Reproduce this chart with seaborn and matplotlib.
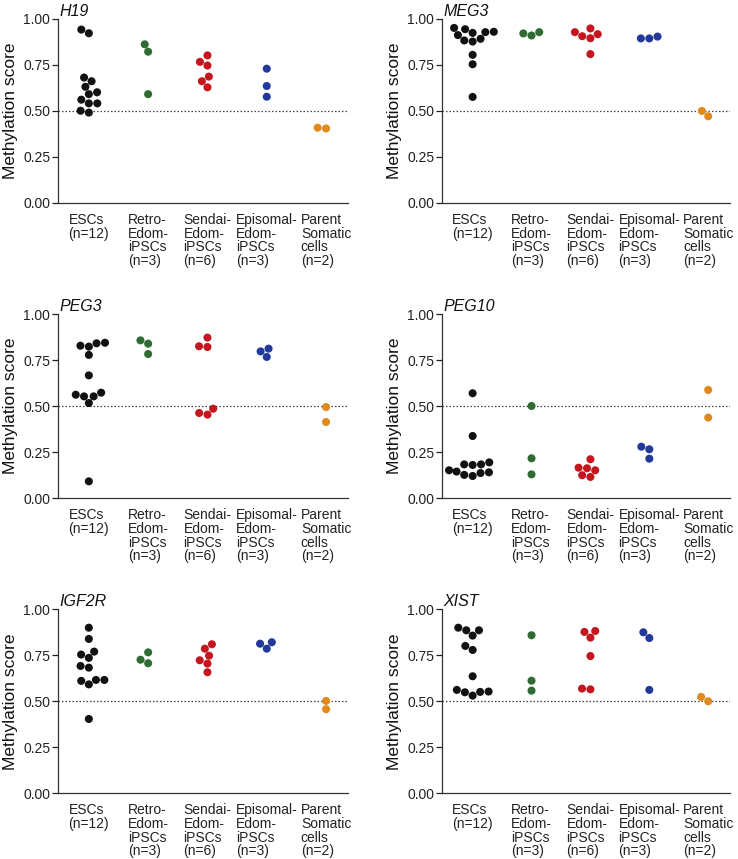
import matplotlib
matplotlib.use("Agg")
import matplotlib.pyplot as plt
import seaborn as sns
import pandas as pd

sns.set_style("ticks")
plt.rcParams['font.family'] = ['Liberation Sans', 'DejaVu Sans']

groups = ["ESCs", "Retro", "Sendai", "Episomal", "Parent"]
group_labels = ["ESCs\n(n=12)", "Retro-\nEdom-\niPSCs\n(n=3)", "Sendai-\nEdom-\niPSCs\n(n=6)",
                "Episomal-\nEdom-\niPSCs\n(n=3)", "Parent\nSomatic\ncells\n(n=2)"]
colors = ["#111111", "#2f6b33", "#c4161f", "#22399a", "#e08a1c"]

genes = ["H19", "MEG3", "PEG3", "PEG10", "IGF2R", "XIST"]

H19_esc = [0.94, 0.92, 0.68, 0.66, 0.63, 0.60, 0.59, 0.56, 0.54, 0.54, 0.50, 0.49]
H19_retro = [0.86, 0.82, 0.59]
H19_sendai = [0.80, 0.765, 0.745, 0.685, 0.66, 0.627]
H19_episomal = [0.728, 0.634, 0.576]
H19_parent = [0.404, 0.408]

MEG3_esc = [0.922, 0.942, 0.928, 0.949, 0.926, 0.910, 0.890, 0.875, 0.881, 0.803, 0.752, 0.575]
MEG3_retro = [0.926, 0.908, 0.919]
MEG3_sendai = [0.915, 0.946, 0.893, 0.926, 0.904, 0.807]
MEG3_episomal = [0.902, 0.892, 0.892]
MEG3_parent = [0.470, 0.499]

PEG3_esc = [0.841, 0.844, 0.823, 0.828, 0.778, 0.667, 0.553, 0.553, 0.573, 0.562, 0.517, 0.092]
PEG3_retro = [0.839, 0.857, 0.783]
PEG3_sendai = [0.872, 0.821, 0.825, 0.486, 0.454, 0.463]
PEG3_episomal = [0.797, 0.812, 0.767]
PEG3_parent = [0.495, 0.414]

PEG10_esc = [0.570, 0.338, 0.195, 0.184, 0.184, 0.181, 0.152, 0.145, 0.141, 0.137, 0.121, 0.127]
PEG10_retro = [0.501, 0.217, 0.130]
PEG10_sendai = [0.212, 0.163, 0.166, 0.152, 0.125, 0.116]
PEG10_episomal = [0.215, 0.266, 0.280]
PEG10_parent = [0.588, 0.438]

IGF2R_esc = [0.900, 0.839, 0.770, 0.754, 0.736, 0.692, 0.683, 0.616, 0.611, 0.616, 0.592, 0.404]
IGF2R_retro = [0.766, 0.726, 0.707]
IGF2R_sendai = [0.810, 0.786, 0.748, 0.705, 0.723, 0.658]
IGF2R_episomal = [0.813, 0.786, 0.821]
IGF2R_parent = [0.502, 0.457]

XIST_esc = [0.857, 0.886, 0.900, 0.886, 0.779, 0.801, 0.636, 0.531, 0.549, 0.562, 0.551, 0.553]
XIST_retro = [0.859, 0.612, 0.558]
XIST_sendai = [0.877, 0.882, 0.846, 0.746, 0.565, 0.569]
XIST_episomal = [0.844, 0.875, 0.562]
XIST_parent = [0.500, 0.524]

data = {
    "H19": [H19_esc, H19_retro, H19_sendai, H19_episomal, H19_parent],
    "MEG3": [MEG3_esc, MEG3_retro, MEG3_sendai, MEG3_episomal, MEG3_parent],
    "PEG3": [PEG3_esc, PEG3_retro, PEG3_sendai, PEG3_episomal, PEG3_parent],
    "PEG10": [PEG10_esc, PEG10_retro, PEG10_sendai, PEG10_episomal, PEG10_parent],
    "IGF2R": [IGF2R_esc, IGF2R_retro, IGF2R_sendai, IGF2R_episomal, IGF2R_parent],
    "XIST": [XIST_esc, XIST_retro, XIST_sendai, XIST_episomal, XIST_parent],
}

W, H = 738, 859
fig = plt.figure(figsize=(W / 100, H / 100), dpi=100)

lefts = [58, 442]
widths = [290, 288]
tops = [18.5, 314, 609.3]
bottoms = [203, 498.3, 793.3]

for i, gene in enumerate(genes):
    r, c = divmod(i, 2)
    l = lefts[c] / W
    w = widths[c] / W
    b = 1 - bottoms[r] / H
    h = (bottoms[r] - tops[r]) / H
    ax = fig.add_axes([l, b, w, h])
    rows = []
    for g, vals in zip(groups, data[gene]):
        for v in vals:
            rows.append({"group": g, "score": v})
    df = pd.DataFrame(rows)
    ax.axhline(0.5, color="#444444", linestyle=(0, (1.2, 1.6)), linewidth=0.9, zorder=1)
    sns.swarmplot(data=df, x="group", y="score", hue="group", order=groups, hue_order=groups,
                  palette=colors, size=5.8, linewidth=0, legend=False, ax=ax, zorder=3)
    for coll in ax.collections:
        coll.set_clip_on(False)
    ax.set_xlim(-0.52, 4.37)
    ax.set_ylim(0, 1.0)
    ax.set_yticks([0, 0.25, 0.5, 0.75, 1.0])
    ax.set_yticklabels(["0.00", "0.25", "0.50", "0.75", "1.00"])
    ax.tick_params(axis="x", length=0, pad=7, labelsize=10, colors="#222222")
    ax.tick_params(axis="y", length=4, width=0.9, pad=1.5, labelsize=10, colors="#222222")
    ax.set_xticks(range(5))
    ax.set_xticklabels(group_labels, multialignment="left", linespacing=0.98,
                       fontsize=10, color="#222222")
    ax.set_xlabel("")
    ax.set_ylabel("Methylation score", fontsize=12.5, color="#111111", labelpad=4)
    sns.despine(ax=ax)
    for s in ["left", "bottom"]:
        ax.spines[s].set_linewidth(0.9)
        ax.spines[s].set_color("#333333")
    ax.text(0.005, 1.0, gene, transform=ax.transAxes, fontsize=11.5, fontstyle="italic",
            ha="left", va="bottom", color="#111111")

fig.savefig("out.png", dpi=100)
